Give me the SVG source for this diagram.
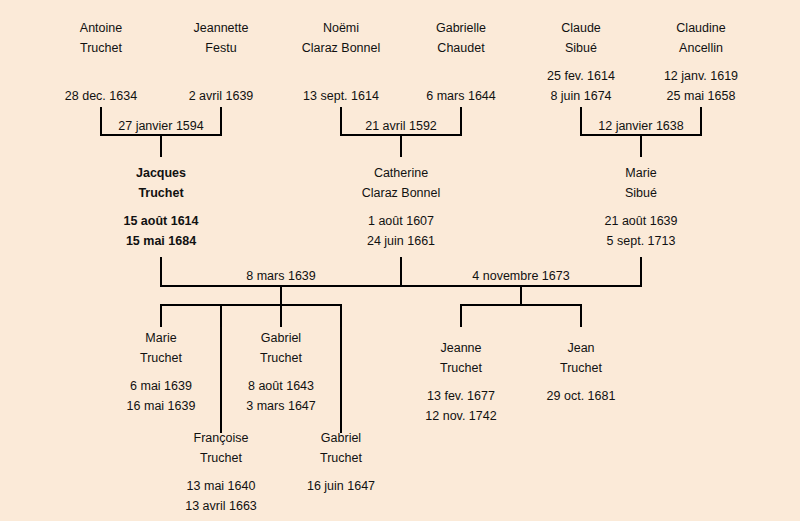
<svg xmlns="http://www.w3.org/2000/svg" width="800" height="521" viewBox="0 0 800 521">
<style>
text{font-family:"Liberation Sans",Arial,sans-serif;font-size:12.5px;fill:#111;text-anchor:middle}
.b{font-weight:bold}
.c{fill:none;stroke:#000;stroke-width:2;stroke-linecap:square}
</style>
<rect width="800" height="521" fill="#fbead8"/>
<g id="connectors" class="c">
<path d="M101,108V135H221V108M161,135V156"/>
<path d="M341,108V135H461V108M401,135V156"/>
<path d="M581,108V135H701V108M641,135V156"/>
<path d="M161,258V286H641V258M401,258V286"/>
<path d="M281,286V305M161,326V305H341V432M221,305V432M281,305V326"/>
<path d="M521,286V305M461,326V305H581V326"/>
</g>
<g id="antoine"><text x="101" y="32">Antoine</text><text x="101" y="52">Truchet</text><text x="101" y="100">28 dec. 1634</text></g>
<g id="jeannette"><text x="221" y="32">Jeannette</text><text x="221" y="52">Festu</text><text x="221" y="100">2 avril 1639</text></g>
<g id="noemi"><text x="341" y="32">Noëmi</text><text x="341" y="52">Claraz Bonnel</text><text x="341" y="100">13 sept. 1614</text></g>
<g id="gabrielle"><text x="461" y="32">Gabrielle</text><text x="461" y="52">Chaudet</text><text x="461" y="100">6 mars 1644</text></g>
<g id="claude"><text x="581" y="32">Claude</text><text x="581" y="52">Sibué</text><text x="581" y="80">25 fev. 1614</text><text x="581" y="100">8 juin 1674</text></g>
<g id="claudine"><text x="701" y="32">Claudine</text><text x="701" y="52">Ancellin</text><text x="701" y="80">12 janv. 1619</text><text x="701" y="100">25 mai 1658</text></g>
<g id="marriage-labels">
<text x="161" y="130">27 janvier 1594</text>
<text x="401" y="130">21 avril 1592</text>
<text x="641" y="130">12 janvier 1638</text>
<text x="281" y="280">8 mars 1639</text>
<text x="521" y="280">4 novembre 1673</text>
</g>
<g id="jacques" class="b"><text class="b" x="161" y="177">Jacques</text><text class="b" x="161" y="197">Truchet</text><text class="b" x="161" y="224.5">15 août 1614</text><text class="b" x="161" y="244.5">15 mai 1684</text></g>
<g id="catherine"><text x="401" y="177">Catherine</text><text x="401" y="197">Claraz Bonnel</text><text x="401" y="224.5">1 août 1607</text><text x="401" y="244.5">24 juin 1661</text></g>
<g id="marie-sibue"><text x="641" y="177">Marie</text><text x="641" y="197">Sibué</text><text x="641" y="224.5">21 août 1639</text><text x="641" y="244.5">5 sept. 1713</text></g>
<g id="marie-truchet"><text x="161" y="342">Marie</text><text x="161" y="362">Truchet</text><text x="161" y="390">6 mai 1639</text><text x="161" y="410">16 mai 1639</text></g>
<g id="gabriel-1"><text x="281" y="342">Gabriel</text><text x="281" y="362">Truchet</text><text x="281" y="390">8 août 1643</text><text x="281" y="410">3 mars 1647</text></g>
<g id="francoise"><text x="221" y="442">Françoise</text><text x="221" y="462">Truchet</text><text x="221" y="490">13 mai 1640</text><text x="221" y="510">13 avril 1663</text></g>
<g id="gabriel-2"><text x="341" y="442">Gabriel</text><text x="341" y="462">Truchet</text><text x="341" y="490">16 juin 1647</text></g>
<g id="jeanne"><text x="461" y="352">Jeanne</text><text x="461" y="372">Truchet</text><text x="461" y="400">13 fev. 1677</text><text x="461" y="420">12 nov. 1742</text></g>
<g id="jean"><text x="581" y="352">Jean</text><text x="581" y="372">Truchet</text><text x="581" y="400">29 oct. 1681</text></g>
</svg>
